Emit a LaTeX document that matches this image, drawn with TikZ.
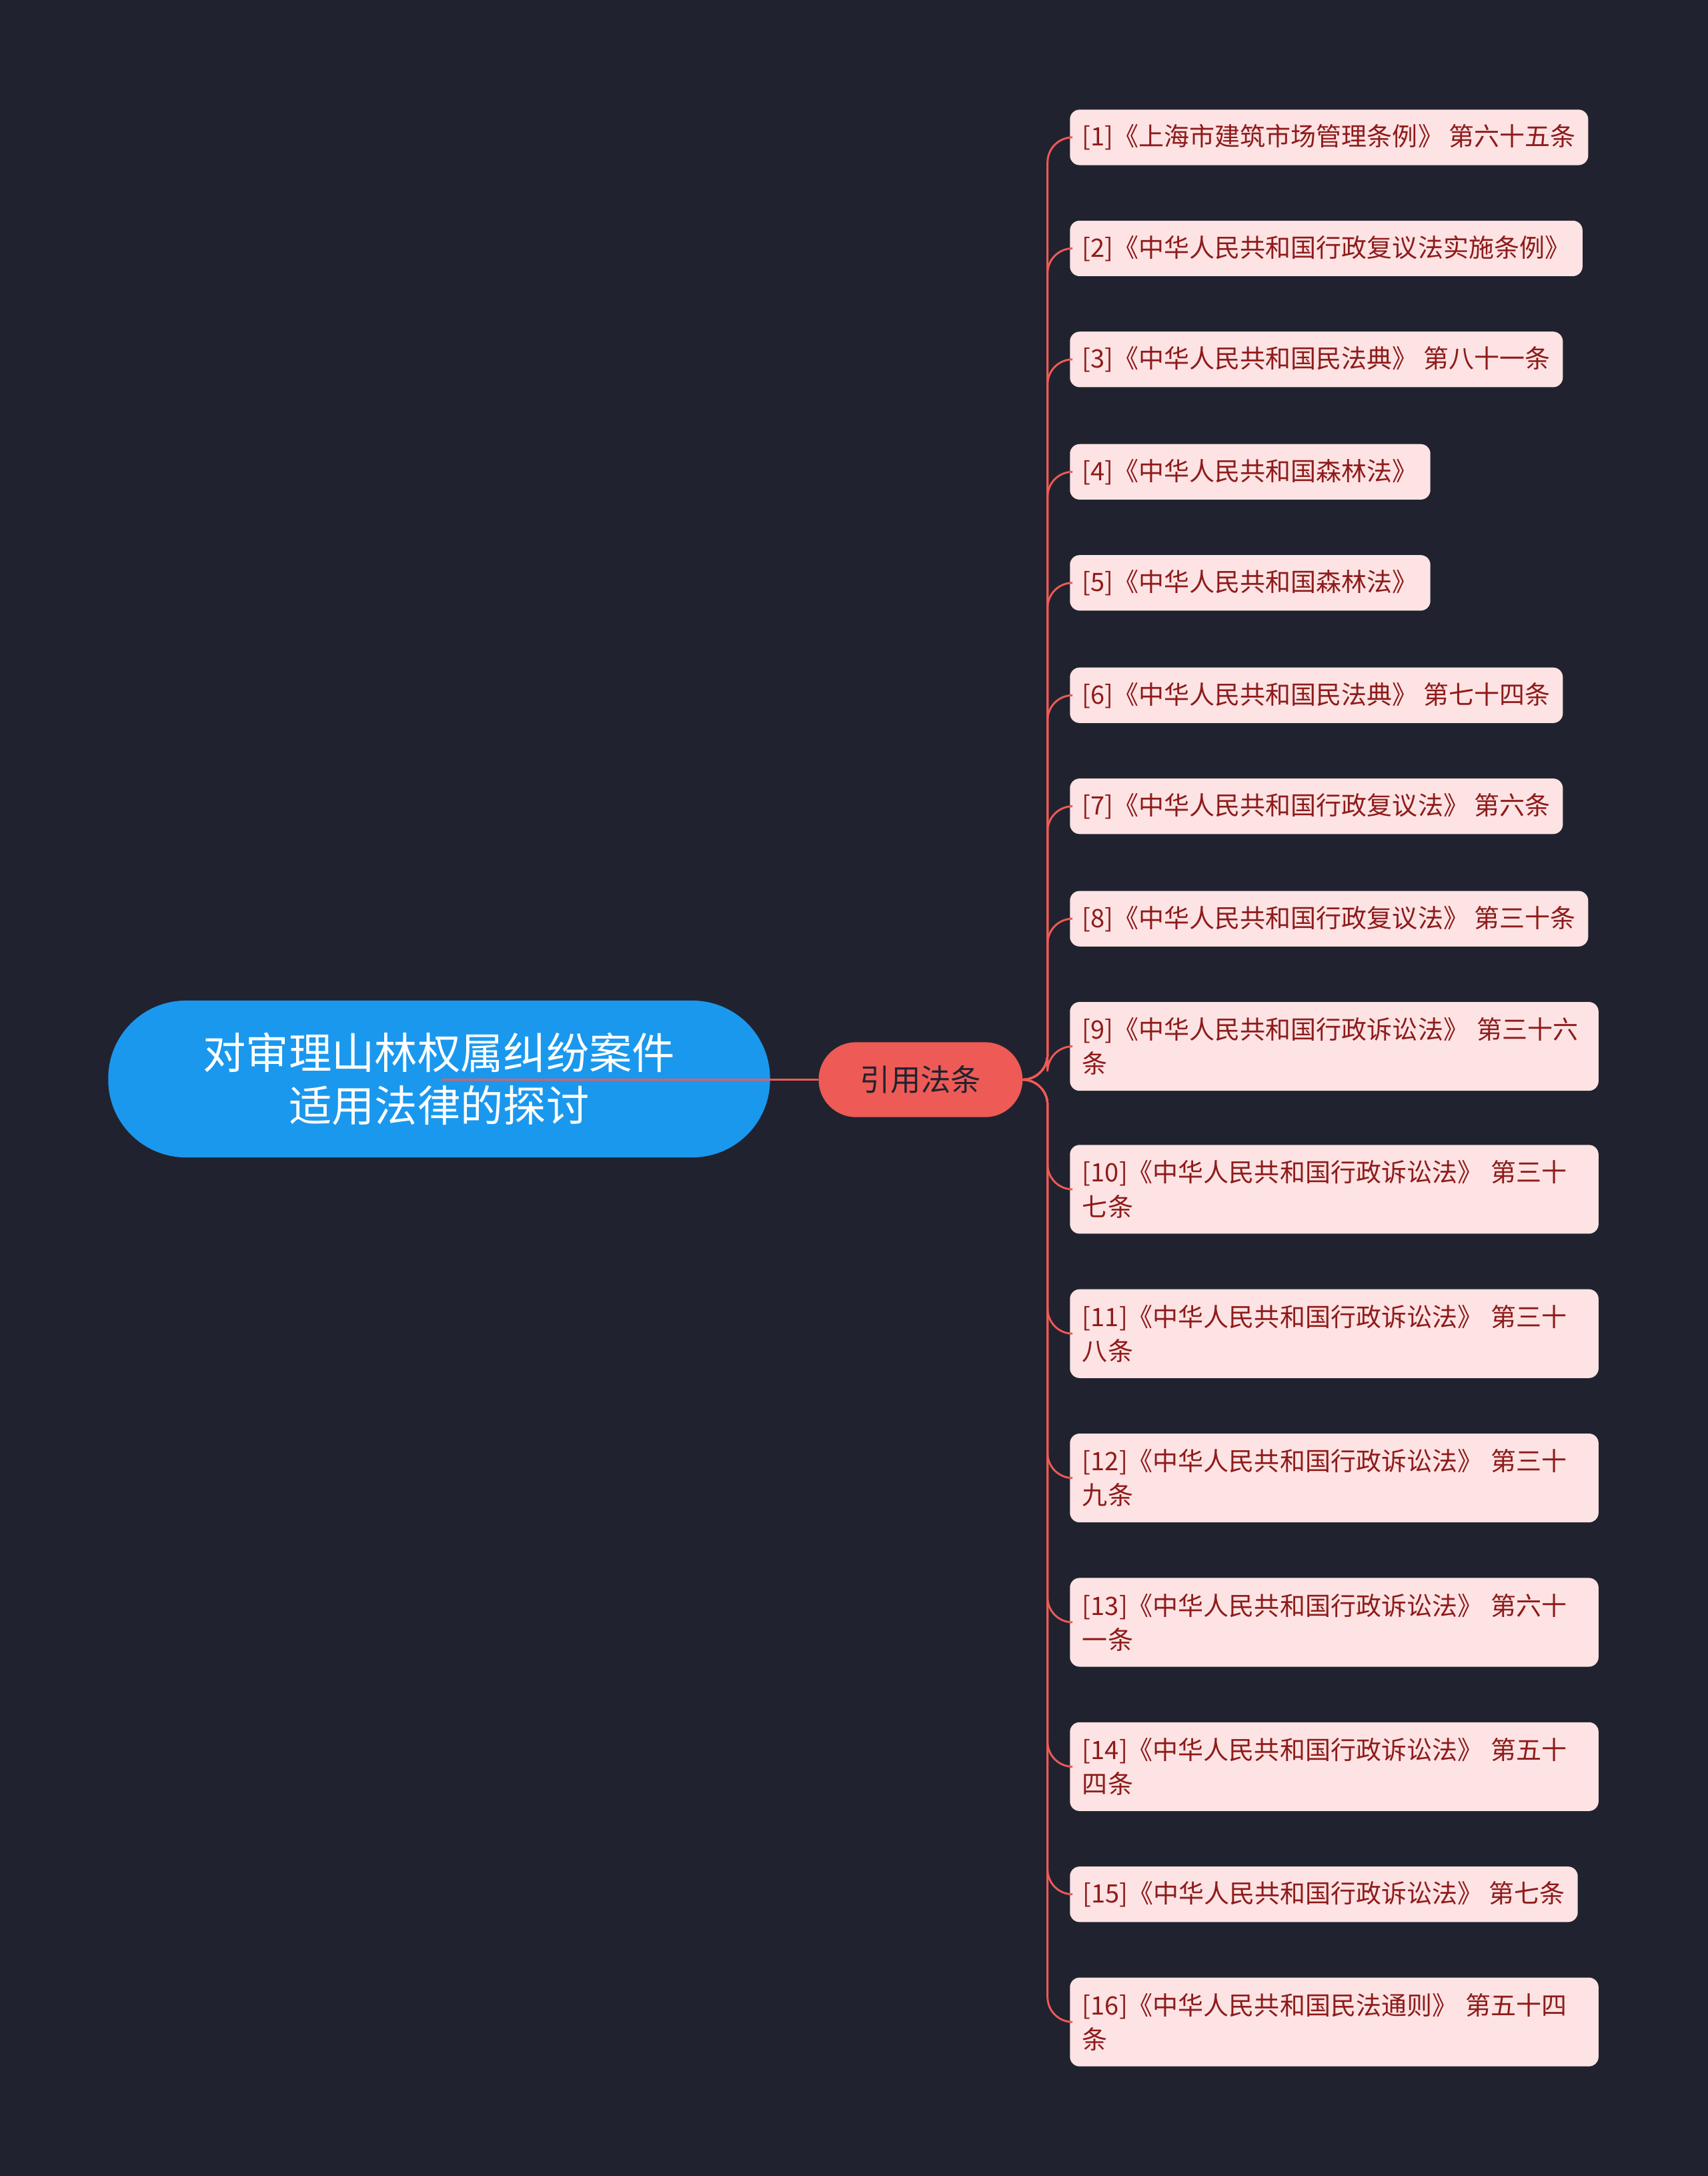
\documentclass[tikz,border=0pt]{standalone}
\usepackage{fontspec}
\setmainfont{Noto Sans CJK SC}
\begin{document}
\begin{tikzpicture}[x=0.05cm,y=-0.05cm,
  leaf/.style={draw=none,fill=leaffill,rounded corners=0.35cm,anchor=west,inner xsep=0.45cm,inner ysep=0pt,
    text=leaftext,font=\fontsize{26}{35}\selectfont,align=left,minimum width=#1},
  two/.style={text width=#1},
  link/.style={draw=linkred,line width=2pt,rounded corners=0.9cm}]
\definecolor{bg}{HTML}{20232F}
\definecolor{leaffill}{HTML}{FDE3E3}
\definecolor{leaftext}{HTML}{8E1B1B}
\definecolor{linkred}{HTML}{EE5A56}
\definecolor{rootblue}{HTML}{1A98EE}
\fill[bg] (0,0) rectangle (1231,1568);
\node[fill=rootblue,rounded corners=2.8cm,minimum width=477*0.05cm,minimum height=113*0.05cm,text=white,
  font=\fontsize{44}{54}\selectfont,align=center] (root) at (316.5,777.5) {对审理山林权属纠纷案件\\适用法律的探讨};
\node[fill=linkred,rounded corners=1.35cm,minimum width=147*0.05cm,minimum height=54*0.05cm,text=bg,
  font=\fontsize{31}{36}\selectfont] (mid) at (663.5,778) {引用法条};
\draw[link] (318,778) -- (mid.west);
\foreach \n/\y/\r/\h/\t in {
 1/99/1144/40/{[1]《上海市建筑市场管理条例》 第六十五条},
 2/179/1139/40/{[2]《中华人民共和国行政复议法实施条例》},
 3/259/1126/40/{[3]《中华人民共和国民法典》 第八十一条},
 4/340/1029/40/{[4]《中华人民共和国森林法》},
 5/420/1029/40/{[5]《中华人民共和国森林法》},
 6/501/1126/40/{[6]《中华人民共和国民法典》 第七十四条},
 7/581/1126/40/{[7]《中华人民共和国行政复议法》 第六条},
 8/662/1144/40/{[8]《中华人民共和国行政复议法》 第三十条},
 9/754/1152/64/{[9]《中华人民共和国行政诉讼法》 第三十六\\条},
 10/857/1152/64/{[10]《中华人民共和国行政诉讼法》 第三十\\七条},
 11/961/1152/64/{[11]《中华人民共和国行政诉讼法》 第三十\\八条},
 12/1065/1152/64/{[12]《中华人民共和国行政诉讼法》 第三十\\九条},
 13/1169/1152/64/{[13]《中华人民共和国行政诉讼法》 第六十\\一条},
 14/1273/1152/64/{[14]《中华人民共和国行政诉讼法》 第五十\\四条},
 15/1365/1137/40/{[15]《中华人民共和国行政诉讼法》 第七条},
 16/1457/1152/64/{[16]《中华人民共和国民法通则》 第五十四\\条}}
{
 \pgfmathsetmacro\tw{(\r-771)*0.05}
 \pgfmathsetmacro\xw{(\r-771)*0.05-0.9}
 \ifnum\h>50
   \node[leaf=\tw cm,two=\xw cm,minimum height=\h*0.05cm] (l\n) at (771,\y) {\t};
 \else
   \node[leaf=\tw cm,minimum height=\h*0.05cm] (l\n) at (771,\y) {\t};
 \fi
 \draw[link] (mid.east) -- (755,778) |- (l\n.west);
}
\end{tikzpicture}
\end{document}
